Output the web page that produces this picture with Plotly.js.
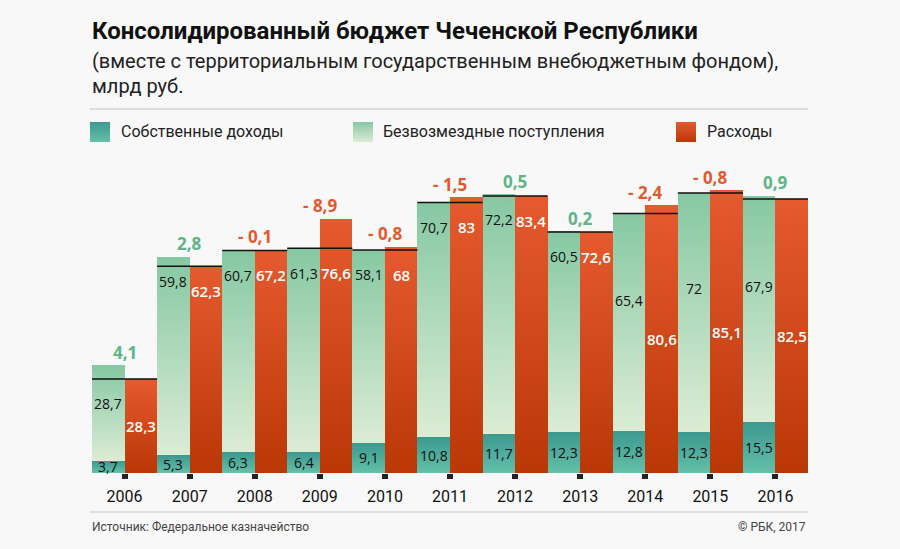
<!DOCTYPE html>
<html>
<head>
<meta charset="utf-8">
<script src="https://cdn.plot.ly/plotly-3.0.1.min.js"></script>
<style>
  html, body { margin: 0; padding: 0; background: #f8f8f8; }
</style>
</head>
<body>
<div id="chart" style="width:900px;height:549px"></div>
<script>
// данные, млрд руб.
const years        = [2006, 2007, 2008, 2009, 2010, 2011, 2012, 2013, 2014, 2015, 2016];
const ownRevenue   = [3.7, 5.3, 6.3, 6.4, 9.1, 10.8, 11.7, 12.3, 12.8, 12.3, 15.5];
const grants       = [28.7, 59.8, 60.7, 61.3, 58.1, 70.7, 72.2, 60.5, 65.4, 72, 67.9];
const expenses     = [28.3, 62.3, 67.2, 76.6, 68, 83, 83.4, 72.6, 80.6, 85.1, 82.5];
const balance      = [4.1, 2.8, -0.1, -8.9, -0.8, -1.5, 0.5, 0.2, -2.4, -0.8, 0.9];
// где подписи стоят у верха столбца, а где посередине
const labelNearTop = [false, true, true, true, true, true, true, true, false, false, false];

const NARROW = "Roboto, 'Noto Sans', sans-serif";
const NUM = "'Open Sans', 'Noto Sans', sans-serif";

const fmt = v => String(v).replace('.', ',');

// plot area: bottom at 473px, 313px high
const PLOT_BOTTOM = 473, PLOT_H = 313;
const py = p => (PLOT_BOTTOM - p) / PLOT_H;

const revX = years.map(y => y - 0.25);
const expX = years.map(y => y + 0.25);
const revTotal = years.map((y, i) => ownRevenue[i] + grants[i]);

// black line at the lower of the two tops, across both bars
let lineX = [], lineY = [];
years.forEach((y, i) => {
  const m = Math.min(revTotal[i], expenses[i]);
  lineX.push(y - 0.5, y + 0.5, null);
  lineY.push(m, m, null);
});

const data = [
  { type: 'bar', x: revX, y: ownRevenue, width: 0.5, name: 'Собственные доходы',
    marker: { color: '#4aaa9a', line: { width: 0 } } },
  { type: 'bar', x: revX, y: grants, width: 0.5, name: 'Безвозмездные поступления',
    marker: { color: '#b0dcbf', line: { width: 0 } } },
  { type: 'bar', x: expX, y: expenses, width: 0.5, name: 'Расходы',
    marker: { color: '#d24a1c', line: { width: 0 } } },
  { type: 'scatter', mode: 'lines', x: lineX, y: lineY, connectgaps: false,
    line: { color: '#111', width: 1.5 }, hoverinfo: 'skip' }
];

let annotations = [];
years.forEach((y, i) => {
  const top = labelNearTop[i];
  // own revenue
  annotations.push({ x: y - 0.25, y: ownRevenue[i] / 2, text: fmt(ownRevenue[i]), showarrow: false,
    font: { family: NUM, size: 14, color: '#111' } });
  // grants
  const gy = top ? revTotal[i] - 7.5 : ownRevenue[i] + grants[i] * 0.6;
  annotations.push({ x: y - 0.25, y: gy, text: fmt(grants[i]), showarrow: false,
    font: { family: NUM, size: 14, color: '#111' } });
  // expenses
  const ey = top ? Math.min(revTotal[i], expenses[i]) - 7.5 : expenses[i] / 2;
  annotations.push({ x: y + 0.25, y: ey, text: fmt(expenses[i]), showarrow: false,
    font: { family: NUM, size: 15, color: '#ffffff', weight: 600 } });
  // balance
  const b = balance[i];
  annotations.push({ x: y, y: Math.max(revTotal[i], expenses[i]) + 4,
    text: b < 0 ? '- ' + fmt(-b) : fmt(b), showarrow: false,
    font: { family: NUM, size: 17, weight: 700, color: b < 0 ? '#e4582e' : '#5cb487' } });
});

// titles, legend, footer
annotations.push(
  { xref: 'paper', yref: 'paper', x: -0.003, y: py(31), xanchor: 'left', yanchor: 'middle', showarrow: false,
    text: '<b>Консолидированный бюджет Чеченской Республики</b>',
    font: { family: NARROW, size: 24, color: '#111' } },
  { xref: 'paper', yref: 'paper', x: -0.003, y: py(61), xanchor: 'left', yanchor: 'middle', showarrow: false,
    text: '(вместе с территориальным государственным внебюджетным фондом),',
    font: { family: NARROW, size: 20, color: '#222' } },
  { xref: 'paper', yref: 'paper', x: -0.003, y: py(86), xanchor: 'left', yanchor: 'middle', showarrow: false,
    text: 'млрд руб.',
    font: { family: NARROW, size: 20, color: '#222' } },
  { xref: 'paper', yref: 'paper', x: (119 - 92) / 716, y: py(132), xanchor: 'left', yanchor: 'middle', showarrow: false,
    text: 'Собственные доходы', font: { family: NARROW, size: 16, color: '#222' } },
  { xref: 'paper', yref: 'paper', x: (381 - 92) / 716, y: py(132), xanchor: 'left', yanchor: 'middle', showarrow: false,
    text: 'Безвозмездные поступления', font: { family: NARROW, size: 16, color: '#222' } },
  { xref: 'paper', yref: 'paper', x: (705 - 92) / 716, y: py(132), xanchor: 'left', yanchor: 'middle', showarrow: false,
    text: 'Расходы', font: { family: NARROW, size: 16, color: '#222' } },
  { xref: 'paper', yref: 'paper', x: -0.003, y: py(527), xanchor: 'left', yanchor: 'middle', showarrow: false,
    text: 'Источник: Федеральное казначейство', font: { family: NARROW, size: 12, color: '#444' } },
  { xref: 'paper', yref: 'paper', x: 1, y: py(527), xanchor: 'right', yanchor: 'middle', showarrow: false,
    text: '© РБК, 2017', font: { family: NARROW, size: 12, color: '#444' } }
);

const swatch = (x0) => ({ type: 'rect', xref: 'paper', yref: 'paper',
  x0: (x0 - 92) / 716, x1: (x0 + 20 - 92) / 716, y0: py(142), y1: py(122),
  line: { width: 0 }, fillcolor: '#888' });

const shapes = [
  { type: 'line', xref: 'paper', yref: 'paper', x0: -0.003, x1: 1, y0: py(109), y1: py(109),
    line: { color: '#d4d4d4', width: 1.5 } },
  { type: 'line', xref: 'paper', yref: 'paper', x0: -0.003, x1: 1, y0: py(512), y1: py(512),
    line: { color: '#d4d4d4', width: 1.5 } },
  Object.assign(swatch(90), { fillcolor: '#4aaa9a' }),
  Object.assign(swatch(353), { fillcolor: '#b0dcbf' }),
  Object.assign(swatch(676), { fillcolor: '#d24a1c' })
];

const layout = {
  width: 900, height: 549,
  margin: { l: 92, r: 92, t: 160, b: 76, pad: 0 },
  paper_bgcolor: '#f8f8f8',
  plot_bgcolor: '#f8f8f8',
  barmode: 'stack',
  bargap: 0,
  showlegend: false,
  xaxis: {
    range: [2005.5, 2016.5],
    tickvals: years,
    ticktext: years.map(String),
    ticks: 'outside', ticklen: 5, tickwidth: 6, tickcolor: '#222',
    tickfont: { family: NARROW, size: 16, color: '#111' },
    ticklabelstandoff: 4,
    showgrid: false, zeroline: false, showline: false,
    fixedrange: true
  },
  yaxis: {
    range: [0, PLOT_H / 3.32],
    visible: false, showgrid: false, zeroline: false,
    fixedrange: true
  },
  annotations: annotations,
  shapes: shapes
};

const gradients = [
  ['gOwn', '#3b998f', '#63c0a9'],
  ['gGrant', '#86c8a3', '#dcecd5'],
  ['gExp', '#e55a2f', '#ba3706']
];

function applyGradients(gd) {
  const ns = 'http://www.w3.org/2000/svg';
  const svg = gd.querySelector('svg.main-svg');
  let defs = svg.querySelector('defs');
  if (!defs) { defs = document.createElementNS(ns, 'defs'); svg.insertBefore(defs, svg.firstChild); }
  gradients.forEach(([id, top, bottom]) => {
    const g = document.createElementNS(ns, 'linearGradient');
    g.setAttribute('id', id);
    g.setAttribute('x1', '0'); g.setAttribute('y1', '0');
    g.setAttribute('x2', '0'); g.setAttribute('y2', '1');
    [[0, top], [1, bottom]].forEach(([o, c]) => {
      const s = document.createElementNS(ns, 'stop');
      s.setAttribute('offset', o);
      s.setAttribute('stop-color', c);
      g.appendChild(s);
    });
    defs.appendChild(g);
  });
  const traces = gd.querySelectorAll('.barlayer .trace');
  traces.forEach((t, i) => {
    t.querySelectorAll('path').forEach(p => { p.style.fill = 'url(#' + gradients[i][0] + ')'; });
  });
  [2, 3, 4].forEach((k, i) => {
    const p = gd.querySelector('.shapelayer path[data-index="' + k + '"]');
    if (p) p.style.fill = 'url(#' + gradients[i][0] + ')';
  });
}

Plotly.newPlot('chart', data, layout, { staticPlot: true, displayModeBar: false })
  .then(applyGradients);
</script>
</body>
</html>
